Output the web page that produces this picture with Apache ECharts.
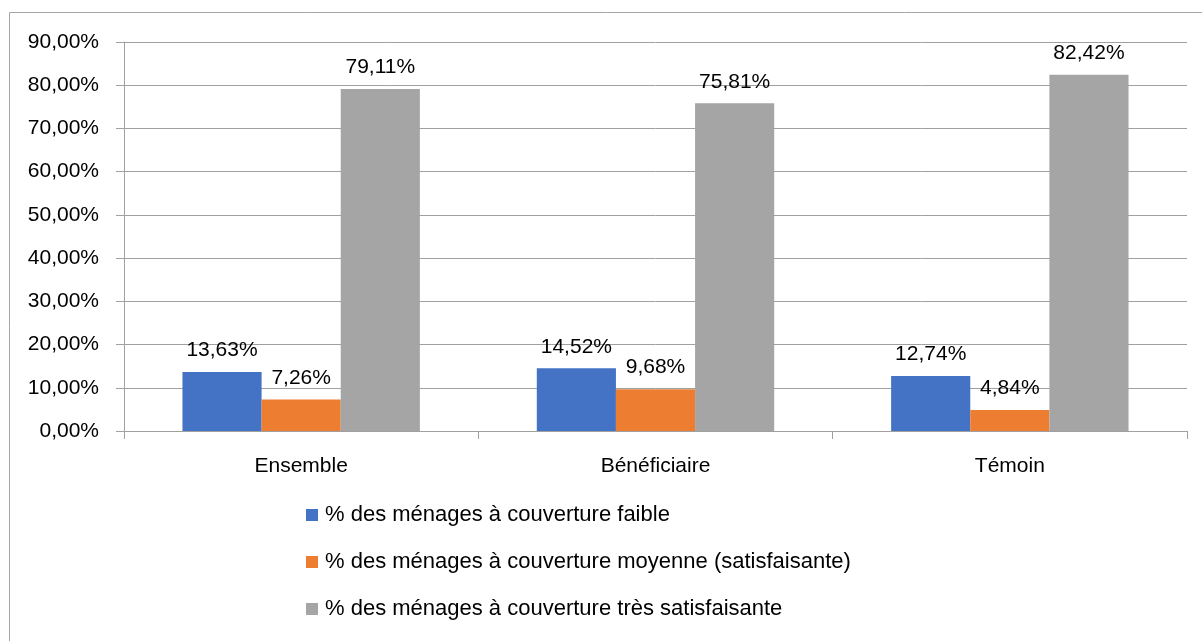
<!DOCTYPE html>
<html>
<head>
<meta charset="utf-8">
<script src="https://cdn.jsdelivr.net/npm/echarts@6/dist/echarts.min.js"></script>
<style>
  html, body { margin: 0; padding: 0; background: #fff; }
  #chart { width: 1202px; height: 641px; }
</style>
</head>
<body>
<div id="chart"></div>
<script>
  var categories = ['Ensemble', 'Bénéficiaire', 'Témoin']
  var seriesNames = [
    '% des ménages à couverture faible',
    '% des ménages à couverture moyenne (satisfaisante)',
    '% des ménages à couverture très satisfaisante'
  ]
  var faible = [13.63, 14.52, 12.74]
  var moyenne = [7.26, 9.68, 4.84]
  var tresSatisfaisante = [79.11, 75.81, 82.42]
  var colors = ['#4472C4', '#ED7D31', '#A5A5A5']

  var fontFamily = 'Liberation Sans, Arial, sans-serif'
  var fmt = function (v) {
    return Number(v).toFixed(2).replace('.', ',') + '%'
  }

  var chart = echarts.init(document.getElementById('chart'))
  var values = [faible, moyenne, tresSatisfaisante]
  var series = []
  for (var i = 0; i < seriesNames.length; i++) {
    series.push({
      name: seriesNames[i],
      type: 'bar',
      data: values[i],
      barGap: 0,
      barCategoryGap: '33%',
      itemStyle: { color: colors[i] },
      label: {
        show: true,
        position: 'top',
        distance: 11,
        color: '#000',
        fontSize: 21,
        fontFamily: fontFamily,
        formatter: function (p) { return fmt(p.value) }
      }
    })
  }

  var option = {
    animation: false,
    color: colors,
    textStyle: { fontFamily: fontFamily },
    graphic: [{
      type: 'rect',
      shape: { x: 9.5, y: 12.5, width: 1220, height: 700 },
      style: { fill: 'none', stroke: '#a6a6a6', lineWidth: 1 },
      silent: true
    }],
    grid: { left: 124, right: 15, top: 42, bottom: 210 },
    legend: {
      orient: 'vertical',
      left: 301,
      top: 499,
      itemWidth: 12,
      itemHeight: 12,
      itemGap: 25,
      icon: 'rect',
      data: seriesNames,
      textStyle: { color: '#000', fontSize: 22, fontFamily: fontFamily, padding: [0, 0, 0, 2] }
    },
    xAxis: {
      type: 'category',
      data: categories,
      axisLine: { lineStyle: { color: '#a0a0a0', width: 1 } },
      axisTick: { show: true, length: 8, lineStyle: { color: '#a0a0a0' } },
      axisLabel: { color: '#000', fontSize: 21, fontFamily: fontFamily, margin: 25 }
    },
    yAxis: {
      type: 'value',
      min: 0,
      max: 90,
      interval: 10,
      axisLine: { show: true, lineStyle: { color: '#a0a0a0', width: 1 } },
      axisTick: { show: true, length: 8, lineStyle: { color: '#a0a0a0' } },
      splitLine: { show: true, lineStyle: { color: '#a0a0a0', width: 1 } },
      axisLabel: {
        color: '#000',
        fontSize: 21,
        fontFamily: fontFamily,
        margin: 25,
        formatter: fmt
      }
    },
    series: series
  }
  chart.setOption(option)
</script>
</body>
</html>
